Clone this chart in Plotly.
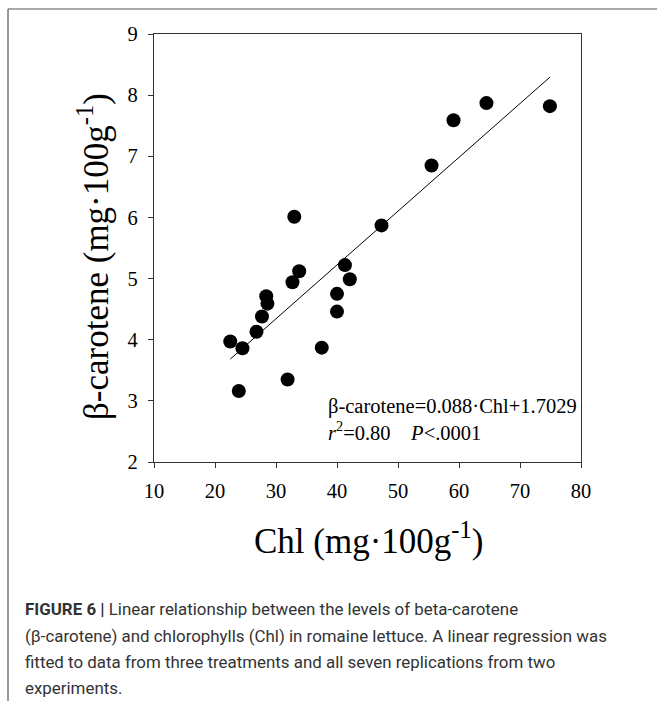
import plotly.graph_objects as go

# Data
chl = [22.5, 23.9, 24.5, 26.8, 27.7, 28.4, 28.6, 31.9, 32.7, 33.0, 33.8,
       37.5, 40.0, 40.0, 41.3, 42.1, 47.3, 55.5, 59.1, 64.5, 74.9]
beta_carotene = [3.97, 3.16, 3.86, 4.13, 4.38, 4.71, 4.59, 3.35, 4.94, 6.01, 5.12,
                 3.87, 4.46, 4.75, 5.22, 4.99, 5.87, 6.85, 7.59, 7.87, 7.82]
slope = 0.088
intercept = 1.7029
x_ticks = [10, 20, 30, 40, 50, 60, 70, 80]
y_ticks = [2, 3, 4, 5, 6, 7, 8, 9]
caption_lines = [
    "<b>FIGURE 6 |</b> Linear relationship between the levels of beta-carotene",
    "(β-carotene) and chlorophylls (Chl) in romaine lettuce. A linear regression was",
    "fitted to data from three treatments and all seven replications from two",
    "experiments.",
]

W, H = 657, 701
L, R, T, B = 154, 581, 34, 462   # plot area in pixels


def px(xp):
    return (xp - L) / (R - L)


def py(yp):
    return (B - yp) / (B - T)


fit_x = [min(chl), max(chl)]
fit_y = [slope * v + intercept for v in fit_x]

serif = "Liberation Serif, Times New Roman, serif"

fig = go.Figure()
fig.add_trace(go.Scatter(x=fit_x, y=fit_y, mode="lines",
                         line=dict(color="black", width=1), showlegend=False,
                         hoverinfo="skip"))
fig.add_trace(go.Scatter(x=chl, y=beta_carotene, mode="markers",
                         marker=dict(color="black", size=14), showlegend=False))

axis_common = dict(showgrid=False, zeroline=False, showline=True, linecolor="#333",
                   linewidth=1.2, mirror=True, ticks="outside", ticklen=5,
                   tickcolor="#333", tickwidth=1.2,
                   tickfont=dict(family=serif, size=20.5, color="black"))

fig.update_xaxes(range=[10, 80], tickvals=x_ticks, ticklabelstandoff=5, **axis_common)
fig.update_yaxes(range=[2, 9], tickvals=y_ticks, ticklabelstandoff=6, **axis_common)

annotations = [
    dict(text="β-carotene=0.088·Chl+1.7029", x=px(326), y=py(406), xref="paper",
         yref="paper", xanchor="left", yanchor="middle", showarrow=False,
         font=dict(family=serif, size=20.5, color="black")),
    dict(text="<i>r</i><sup>2</sup>=0.80    <i>P</i><.0001", x=px(326), y=py(431),
         xref="paper", yref="paper", xanchor="left", yanchor="middle", showarrow=False,
         font=dict(family=serif, size=20.5, color="black")),
    dict(text="Chl (mg·100g<sup>-1</sup>)", x=px(368), y=py(538), xref="paper",
         yref="paper", xanchor="center", yanchor="middle", showarrow=False,
         font=dict(family=serif, size=35, color="black")),
    dict(text="β-carotene (mg·100g<sup>-1</sup>)", x=px(93), y=py(257), xref="paper",
         yref="paper", xanchor="center", yanchor="middle", showarrow=False,
         textangle=-90, font=dict(family=serif, size=35, color="black")),
]
for i, line in enumerate(caption_lines):
    annotations.append(dict(text=line, x=px(23), y=py(609 + 26.5 * i), xref="paper",
                            yref="paper", xanchor="left", yanchor="middle",
                            showarrow=False,
                            font=dict(family="Roboto, Liberation Sans, sans-serif",
                                      size=16.9, color="#333")))

shapes = [
    dict(type="line", xref="paper", yref="paper", x0=px(8), x1=px(W + 5),
         y0=py(9), y1=py(9), line=dict(color="#555", width=1.2)),
    dict(type="line", xref="paper", yref="paper", x0=px(8), x1=px(8),
         y0=py(9), y1=py(H + 5), line=dict(color="#555", width=1.2)),
]

fig.update_layout(width=W, height=H, margin=dict(l=L, r=W - R, t=T, b=H - B),
                  plot_bgcolor="white", paper_bgcolor="white",
                  annotations=annotations, shapes=shapes)

fig.write_html("out.html")
